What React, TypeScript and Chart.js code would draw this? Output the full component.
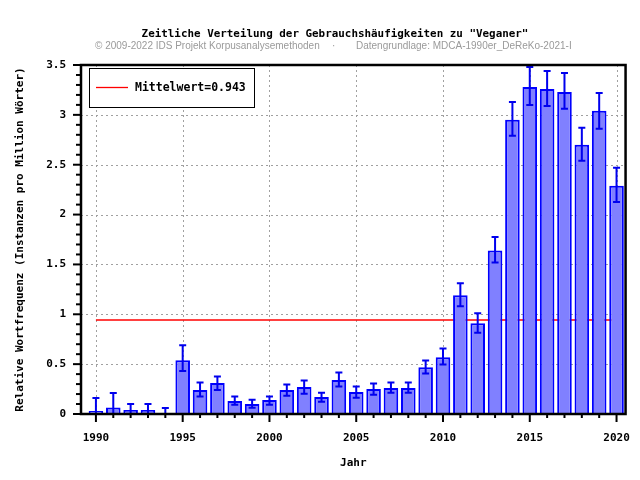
import React, { useEffect, useRef } from "react";
import { Chart, registerables } from "chart.js";

Chart.register(...registerables);

const years = [
  1990, 1991, 1992, 1993, 1994, 1995, 1996, 1997, 1998, 1999, 2000, 2001, 2002, 2003, 2004, 2005,
  2006, 2007, 2008, 2009, 2010, 2011, 2012, 2013, 2014, 2015, 2016, 2017, 2018, 2019, 2020,
];
const values = [
  0.03, 0.065, 0.04, 0.04, 0.01, 0.54, 0.24, 0.31, 0.13, 0.1, 0.14, 0.24, 0.27, 0.17, 0.34, 0.22,
  0.25, 0.26, 0.26, 0.47, 0.57, 1.19, 0.91, 1.64, 2.95, 3.28, 3.26, 3.23, 2.7, 3.04, 2.29,
];
const errLow = [
  0, 0, 0, 0, 0, 0.43, 0.175, 0.24, 0.094, 0.063, 0.094, 0.184, 0.204, 0.124, 0.275, 0.164,
  0.194, 0.214, 0.214, 0.405, 0.496, 1.08, 0.815, 1.52, 2.79, 3.1, 3.09, 3.06, 2.54, 2.86, 2.126,
];
const errHigh = [
  0.16, 0.21, 0.1, 0.1, 0.06, 0.69, 0.315, 0.375, 0.175, 0.144, 0.175, 0.295, 0.335, 0.214, 0.415, 0.275,
  0.305, 0.315, 0.315, 0.536, 0.657, 1.31, 1.01, 1.774, 3.13, 3.48, 3.44, 3.42, 2.87, 3.22, 2.47,
];
const meanValue = 0.943;
const titleText = 'Zeitliche Verteilung der Gebrauchshäufigkeiten zu "Veganer"';
const subtitleLeft = "© 2009-2022 IDS Projekt Korpusanalysemethoden";
const subtitleRight = "Datengrundlage: MDCA-1990er_DeReKo-2021-I";
const legendText = "Mittelwert=0.943";
const yTitle = "Relative Wortfrequenz (Instanzen pro Million Wörter)";
const xTitle = "Jahr";

const MONO = '"DejaVu Sans Mono", monospace';

const isMajorY = (v: number) => Math.abs(v * 2 - Math.round(v * 2)) < 1e-6;
const isMajorX = (v: number) => Math.round(v) % 5 === 0;

const decorPlugin = {
  id: "decor",
  beforeDatasetsDraw(chart: any) {
    const { ctx, chartArea: a, scales } = chart;
    const xs = scales.x;
    const ys = scales.y;
    ctx.save();
    ctx.strokeStyle = "#a0a0a0";
    ctx.lineWidth = 1;
    ctx.setLineDash([2, 3]);
    xs.ticks.forEach((t: any) => {
      const v = Math.round(t.value);
      if (Math.abs(t.value - v) > 1e-6 || !isMajorX(v)) return;
      const px = Math.round(xs.getPixelForValue(v)) + 0.5;
      ctx.beginPath();
      ctx.moveTo(px, a.top);
      ctx.lineTo(px, a.bottom);
      ctx.stroke();
    });
    ys.ticks.forEach((t: any) => {
      if (!isMajorY(t.value)) return;
      const py = Math.round(ys.getPixelForValue(t.value)) + 0.5;
      ctx.beginPath();
      ctx.moveTo(a.left, py);
      ctx.lineTo(a.right, py);
      ctx.stroke();
    });
    ctx.restore();
  },
  afterDatasetsDraw(chart: any) {
    const { ctx, chartArea: a, scales } = chart;
    const xs = scales.x;
    const ys = scales.y;
    ctx.save();
    // error bars
    ctx.strokeStyle = "#0000ee";
    ctx.lineWidth = 2;
    years.forEach((yr, i) => {
      const px = xs.getPixelForValue(yr);
      const pLo = ys.getPixelForValue(errLow[i]);
      const pHi = ys.getPixelForValue(errHigh[i]);
      ctx.beginPath();
      ctx.moveTo(px, pLo);
      ctx.lineTo(px, pHi);
      ctx.moveTo(px - 3.5, pHi);
      ctx.lineTo(px + 3.5, pHi);
      if (errLow[i] > 0) {
        ctx.moveTo(px - 3.5, pLo);
        ctx.lineTo(px + 3.5, pLo);
      }
      ctx.stroke();
    });
    // frame
    ctx.strokeStyle = "#000";
    ctx.lineWidth = 2.5;
    ctx.strokeRect(a.left, a.top, a.right - a.left, a.bottom - a.top);
    // tick marks
    ctx.lineWidth = 2;
    ys.ticks.forEach((t: any) => {
      const py = ys.getPixelForValue(t.value);
      const len = isMajorY(t.value) ? 8 : 5;
      ctx.beginPath();
      ctx.moveTo(a.left - len, py);
      ctx.lineTo(a.left, py);
      ctx.stroke();
    });
    xs.ticks.forEach((t: any) => {
      const v = Math.round(t.value);
      if (Math.abs(t.value - v) > 1e-6) return;
      const px = xs.getPixelForValue(v);
      const len = isMajorX(v) ? 8 : 4;
      ctx.beginPath();
      ctx.moveTo(px, a.bottom);
      ctx.lineTo(px, a.bottom + len);
      ctx.stroke();
    });
    // legend box
    const lx = a.left + 8.5;
    const ly = a.top + 3.5;
    ctx.fillStyle = "#fff";
    ctx.fillRect(lx, ly, 165, 39);
    ctx.strokeStyle = "#000";
    ctx.lineWidth = 1;
    ctx.strokeRect(lx, ly, 165, 39);
    ctx.strokeStyle = "#ff0000";
    ctx.lineWidth = 1.3;
    ctx.beginPath();
    ctx.moveTo(lx + 6.5, ly + 19);
    ctx.lineTo(lx + 38.5, ly + 19);
    ctx.stroke();
    ctx.fillStyle = "#000";
    ctx.font = `bold 11.5px ${MONO}`;
    ctx.textAlign = "left";
    ctx.textBaseline = "middle";
    ctx.fillText(legendText, lx + 45.5, ly + 19.5);
    ctx.restore();
  },
  afterDraw(chart: any) {
    const { ctx } = chart;
    ctx.save();
    ctx.fillStyle = "#000";
    ctx.font = `bold 10.9px ${MONO}`;
    ctx.textAlign = "center";
    ctx.textBaseline = "middle";
    ctx.fillText(titleText, 335, 34);
    ctx.fillStyle = "#9a9a9a";
    ctx.font = '10px "Liberation Sans", Arial, sans-serif';
    ctx.textAlign = "left";
    ctx.fillText(subtitleLeft, 95, 46);
    ctx.fillText("·", 332, 46);
    ctx.fillText(subtitleRight, 356, 46);
    ctx.restore();
  },
};

export default function App() {
  const canvasRef = useRef<HTMLCanvasElement | null>(null);

  useEffect(() => {
    document.body.style.margin = "0";
    const canvas = canvasRef.current;
    if (!canvas) return;
    const chart = new Chart(canvas, {
      type: "bar",
      data: {
        datasets: [
          {
            type: "bar",
            label: "Frequenz",
            data: years.map((yr, i) => ({ x: yr, y: values[i] })),
            backgroundColor: "#8080ff",
            borderColor: "#0000ff",
            borderWidth: 2,
            barPercentage: 0.84,
            categoryPercentage: 1,
            order: 1,
          } as any,
          {
            type: "line",
            label: legendText,
            data: [
              { x: years[0], y: meanValue },
              { x: years[years.length - 1], y: meanValue },
            ],
            borderColor: "#ff0000",
            borderWidth: 1.5,
            pointRadius: 0,
            fill: false,
            order: 2,
          } as any,
        ],
      },
      options: {
        responsive: false,
        animation: false,
        devicePixelRatio: 1,
        layout: { padding: { top: 65, right: 13, left: 0, bottom: 0 } },
        plugins: {
          legend: { display: false },
          tooltip: { enabled: false },
          title: { display: false },
        },
        scales: {
          x: {
            type: "linear",
            offset: false,
            min: 1989.14,
            max: 2020.52,
            grid: { display: true, drawOnChartArea: false, drawTicks: true, tickLength: 8, color: "rgba(0,0,0,0)", offset: false },
            border: { display: false },
            ticks: {
              stepSize: 1,
              autoSkip: false,
              maxRotation: 0,
              includeBounds: false,
              padding: 10,
              color: "#000",
              font: { family: MONO, weight: "bold", size: 11 },
              callback: (v: any) => {
                const n = Math.round(Number(v));
                return Math.abs(Number(v) - n) < 1e-6 && isMajorX(n) ? String(n) : "";
              },
            },
            title: {
              display: true,
              text: xTitle,
              color: "#000",
              font: { family: MONO, weight: "bold", size: 11 },
              padding: { top: 0, bottom: 10 },
            },
            afterFit: (scale: any) => {
              scale.height = 66;
            },
          },
          y: {
            type: "linear",
            min: 0,
            max: 3.5,
            grid: { display: true, drawOnChartArea: false, drawTicks: true, tickLength: 8, color: "rgba(0,0,0,0)" },
            border: { display: false },
            ticks: {
              stepSize: 0.1,
              autoSkip: false,
              padding: 7,
              color: "#000",
              font: { family: MONO, weight: "bold", size: 11 },
              callback: (v: any) => {
                const n = Math.round(Number(v) * 10) / 10;
                return isMajorY(n) ? String(n) : "";
              },
            },
            title: {
              display: true,
              text: yTitle,
              color: "#000",
              font: { family: MONO, weight: "bold", size: 11 },
              padding: { top: 14, bottom: 0 },
            },
            afterFit: (scale: any) => {
              scale.width = 81;
            },
          },
        },
      },
      plugins: [decorPlugin],
    });
    return () => chart.destroy();
  }, []);

  return (
    <div style={{ width: 640, height: 480, background: "#fff" }}>
      <canvas ref={canvasRef} width={640} height={480} />
    </div>
  );
}
